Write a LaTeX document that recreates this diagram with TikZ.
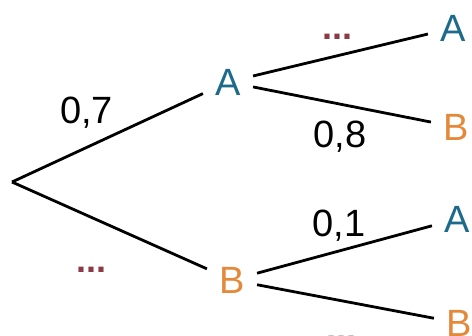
\documentclass[tikz,border=0pt]{standalone}
\usepackage{fontspec}
\setmainfont{Liberation Sans}
\usepackage{tikz}
\definecolor{bleuA}{HTML}{1D6A8A}
\definecolor{orangeB}{HTML}{E4893A}
\definecolor{rougeP}{HTML}{8B3A46}

\begin{document}
\begin{tikzpicture}[x=0.5pt,y=-0.5pt,
  every node/.style={font=\fontsize{19}{22}\selectfont},
  evA/.style={text=bleuA,inner sep=6pt},
  evB/.style={text=orangeB,inner sep=6pt},
  proba/.style={inner sep=0pt},
  pts/.style={inner sep=0pt,text=rougeP,font=\bfseries\fontsize{18}{22}\selectfont},
  branche/.style={line width=1.4pt}]
\useasboundingbox (0,0) rectangle (472,336);
\coordinate (O) at (12,182);
\node[evA] (A) at (228,82) {A};
\node[evB] (B) at (232,280) {B};
\node[evA] (AA) at (453,28) {A};
\node[evB] (AB) at (456,127) {B};
\node[evA] (BA) at (457,219) {A};
\node[evB] (BB) at (459,323) {B};
\draw[branche] (O)--node[proba,pos=0.39,above=9pt] {0,7} (A);
\draw[branche] (O)--node[pts,pos=0.41,below=24pt] {...} (B);
\draw[branche] (A)--node[pts,pos=0.48,above=7.5pt] {...} (AA);
\draw[branche] (A)--node[proba,pos=0.49,below=7.5pt] {0,8} (AB);
\draw[branche] (B)--node[proba,pos=0.47,above=4.3pt] {0,1} (BA);
\draw[branche] (B)--node[pts,pos=0.48,below=17pt] {...} (BB);
\end{tikzpicture}
\end{document}
